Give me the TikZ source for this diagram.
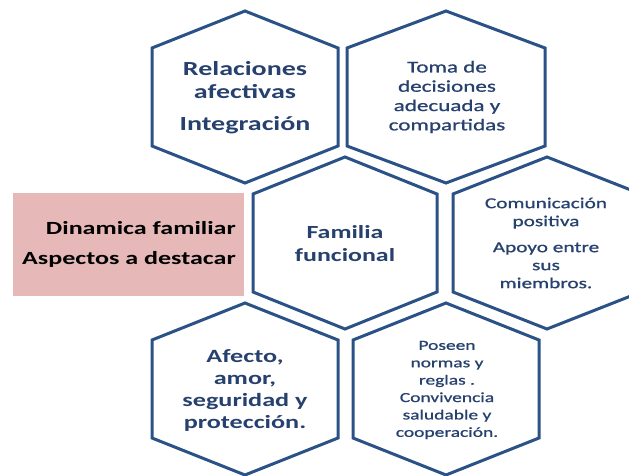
\documentclass[tikz,border=0pt]{standalone}
\usepackage{fontspec}
\newfontfamily\hexfont[FakeStretch=1.4]{Carlito}
\newfontfamily\hexmedfont[FakeStretch=1.4,FakeBold=0.9]{Carlito}
\definecolor{hexblue}{HTML}{2A5286}
\definecolor{textblue}{HTML}{27416F}
\definecolor{boxpink}{HTML}{E6B9B8}
\tikzset{
  hexline/.style={draw=hexblue, line width=3pt, fill=white, line join=miter},
  hextext/.style={text=textblue, align=center, inner sep=0pt},
  boxtext/.style={text=black, align=right, inner sep=0pt}
}

\begin{document}
\begin{tikzpicture}[x=1pt,y=-1pt]
			\useasboundingbox (0,0) rectangle (629,476);
			\clip (0,0) rectangle (629,476);
			
			% hexagon outlines: centre x / top y / half width
			\foreach \cx/\ty/\hw in {245/11/93, 446/11/99, 345/157/92, 547/157/94, 245/303/93, 446/303/93}
				\draw[hexline] (\cx,\ty) -- ++(\hw,37) -- ++(0,98) -- ++(-\hw,37) -- ++(-\hw,-37) -- ++(0,-98) -- cycle;
			
			\fill[boxpink] (13,193) rectangle (244,296);
			
			\node[hextext, font=\hexfont\bfseries\fontsize{20}{23}\selectfont] (rel) at (245,98) {Relaciones\\afectivas\\[9pt]Integración};
			\node[hextext, font=\hexmedfont\fontsize{16.5}{19.3}\selectfont] (toma) at (447,97) {Toma de\\decisiones\\adecuada y\\compartidas};
			\node[hextext, font=\hexfont\bfseries\fontsize{18.5}{23}\selectfont] (fam) at (345,244) {Familia\\funcional};
			\node[hextext, font=\hexmedfont\fontsize{15.2}{18}\selectfont] (com) at (546,243) {Comunicación\\positiva\\[8pt]Apoyo entre\\sus\\miembros.};
			\node[hextext, font=\hexfont\bfseries\fontsize{18.7}{22}\selectfont] (afe) at (245,390) {Afecto,\\amor,\\seguridad y\\protección.};
			\node[hextext, font=\hexmedfont\fontsize{13.9}{17.4}\selectfont] (pos) at (447,390) {Poseen\\normas y\\reglas .\\Convivencia\\saludable y\\cooperación.};
			
			\node[boxtext, font=\hexfont\bfseries\fontsize{18.6}{30}\selectfont, anchor=east] (din) at (236,244) {Dinamica familiar\\Aspectos a destacar};
		\end{tikzpicture}
\end{document}
